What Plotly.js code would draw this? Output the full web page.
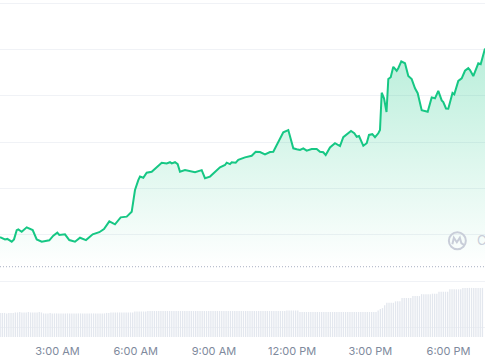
<!DOCTYPE html>
<html><head><meta charset="utf-8">
<script src="https://cdn.plot.ly/plotly-3.0.1.min.js"></script>
<style>html,body{margin:0;padding:0;background:#fff;}#chart{width:485px;height:360px;}</style>
</head><body><div id="chart"></div>
<script>
// Price series (time in hours of the day, price in USD)
const hours = [0.794,0.986,1.074,1.243,1.331,1.435,1.496,1.626,1.818,2.048,2.202,2.394,2.685,2.839,2.992,3.069,3.287,3.452,3.671,3.863,
4.093,4.350,4.603,4.783,4.987,5.205,5.424,5.654,5.846,5.907,5.972,6.099,6.164,6.291,6.421,6.613,6.805,6.997,7.188,7.315,
7.380,7.507,7.610,7.698,7.890,8.082,8.274,8.531,8.657,8.849,9.041,9.233,9.425,9.490,9.616,9.682,9.835,9.935,10.192,10.449,
10.602,10.767,10.959,11.151,11.277,11.469,11.661,11.853,11.918,12.045,12.175,12.302,12.428,12.558,12.750,12.942,13.069,13.195,13.287,13.452,
13.644,13.836,13.962,14.093,14.258,14.384,14.477,14.565,14.730,14.860,14.948,15.075,15.178,15.305,15.370,15.436,15.524,15.620,15.689,15.781,
15.880,16.011,16.072,16.187,16.329,16.456,16.586,16.713,16.816,16.970,17.096,17.200,17.353,17.480,17.606,17.737,17.798,17.902,17.990,18.151,
18.220,18.374,18.504,18.631,18.757,18.822,18.949,19.141,19.233,19.398];
const prices = [1.2190,1.2181,1.2183,1.2171,1.2181,1.2221,1.2224,1.2214,1.2233,1.2221,1.2181,1.2171,1.2177,1.2197,1.2210,1.2200,1.2203,1.2178,1.2171,1.2188,
1.2178,1.2203,1.2212,1.2226,1.2259,1.2246,1.2276,1.2279,1.2300,1.2351,1.2394,1.2437,1.2452,1.2447,1.2469,1.2473,1.2492,1.2512,1.2509,1.2514,
1.2509,1.2514,1.2506,1.2473,1.2480,1.2477,1.2471,1.2480,1.2445,1.2452,1.2473,1.2492,1.2502,1.2512,1.2506,1.2514,1.2512,1.2524,1.2535,1.2542,
1.2559,1.2558,1.2548,1.2558,1.2559,1.2603,1.2643,1.2653,1.2624,1.2574,1.2570,1.2567,1.2574,1.2564,1.2571,1.2571,1.2559,1.2557,1.2545,1.2578,
1.2596,1.2584,1.2622,1.2635,1.2649,1.2639,1.2624,1.2627,1.2585,1.2596,1.2632,1.2635,1.2622,1.2639,1.2653,1.2814,1.2790,1.2731,1.2873,1.2881,
1.2926,1.2909,1.2920,1.2949,1.2941,1.2886,1.2873,1.2833,1.2812,1.2739,1.2736,1.2732,1.2794,1.2790,1.2822,1.2781,1.2774,1.2746,1.2745,1.2813,
1.2807,1.2865,1.2876,1.2909,1.2920,1.2912,1.2886,1.2941,1.2937,1.3005];

// Volume bars, one per 5 minutes (in millions)
const volumeStartHour = 0.8;
const volumeStepHour = 1 / 12;
const volumes = [
5.0,5.0,5.0,4.9,5.0,5.0,5.0,
5.1,5.1,5.2,5.1,5.1,5.1,5.2,5.1,5.1,5.1,5.1,5.2,5.1,
4.9,4.9,4.9,5.0,4.9,4.9,4.9,4.9,4.9,4.9,4.9,4.9,4.9,4.9,4.9,4.9,4.9,4.9,4.9,4.9,4.9,4.9,4.9,4.9,4.9,4.9,4.9,4.9,4.9,5.0,5.0,
5.1,5.1,5.1,5.1,5.1,5.1,5.1,5.1,5.1,5.1,5.1,
5.3,5.3,5.3,5.3,5.3,5.3,
5.4,5.4,5.4,5.4,5.4,5.4,5.4,5.4,
5.4,5.4,5.4,5.4,5.4,5.4,5.4,5.4,
5.4,5.4,5.4,5.4,5.4,5.4,5.4,5.4,
5.4,5.4,5.4,5.4,5.4,5.4,5.4,5.4,
5.4,5.4,5.4,5.4,5.4,5.4,5.4,5.4,
5.4,5.4,5.4,5.4,5.4,5.4,5.4,5.4,
5.4,5.4,5.4,5.4,5.4,5.4,5.4,5.4,
5.4,5.4,5.4,5.4,5.4,5.4,5.4,5.4,
5.5,5.5,5.5,5.5,5.5,5.5,
5.2,5.2,5.2,5.2,5.2,5.2,5.2,5.2,5.2,5.2,5.2,5.2,5.2,5.2,5.2,5.2,5.2,5.2,
5.2,5.2,5.2,5.2,5.2,5.2,5.2,5.2,5.2,5.2,5.2,5.2,5.2,5.2,5.2,5.2,5.2,5.2,
5.5,5.8,6.0,6.6,7.1,7.1,7.1,7.1,7.4,7.4,7.4,
8.1,8.1,8.1,8.1,8.1,8.5,8.5,8.5,8.5,8.9,8.9,8.9,8.9,8.9,9.0,9.0,9.0,
9.4,9.4,9.4,9.4,9.4,9.9,9.9,9.9,9.9,9.9,9.9,
10.2,10.2,10.2,10.2,10.2,10.2,10.2,10.2,10.2,10.2];

const referencePrice = 1.2063;
const tickHours = [3, 6, 9, 12, 15, 18];
const tickLabels = ["3:00 AM", "6:00 AM", "9:00 AM", "12:00 PM", "3:00 PM", "6:00 PM"];

const green = '#16c784';
const watermark = '#c9ced9';

const traces = [
  {
    type: 'scatter', mode: 'lines', x: hours, y: prices,
    line: {color: green, width: 2, shape: 'linear'},
    fill: 'tozeroy',
    fillgradient: {type: 'vertical', start: referencePrice, stop: 1.31,
      colorscale: [[0, 'rgba(22,199,132,0)'], [1, 'rgba(22,199,132,0.33)']]},
    hoverinfo: 'skip'
  },
  {
    type: 'bar', x0: volumeStartHour, dx: volumeStepHour, y: volumes, yaxis: 'y2',
    marker: {color: '#e3e7ee', line: {width: 0}}, hoverinfo: 'skip'
  }
];

const layout = {
  width: 485, height: 360,
  margin: {l: 0, r: 0, t: 0, b: 23, pad: 0},
  paper_bgcolor: '#ffffff', plot_bgcolor: '#ffffff',
  showlegend: false,
  bargap: 0.4,
  xaxis: {
    range: [hours[0], hours[hours.length - 1]],
    tickmode: 'array', tickvals: tickHours, ticktext: tickLabels,
    showgrid: false, zeroline: false, showline: false, ticks: '',
    ticklabelstandoff: 6,
    tickfont: {family: 'Inter, "Liberation Sans", sans-serif', size: 11, color: '#808a9d'}
  },
  yaxis: {
    range: [1.17596, 1.32143], tick0: 1.20, dtick: 0.02,
    showticklabels: false, showgrid: true, gridcolor: '#f0f2f6', gridwidth: 1,
    zeroline: false, showline: false
  },
  yaxis2: {range: [0, 70], overlaying: 'y', visible: false, showgrid: false, zeroline: false},
  shapes: [
    {type: 'line', xref: 'paper', x0: 0, x1: 1, yref: 'y', y0: referencePrice, y1: referencePrice,
      line: {color: '#a9b0c2', width: 1, dash: '1px,2px'}},
    {type: 'circle', xref: 'paper', yref: 'paper', xsizemode: 'pixel', ysizemode: 'pixel',
      xanchor: 0.943, yanchor: 0.2858, x0: -8.5, x1: 8.5, y0: -8.5, y1: 8.5,
      line: {color: watermark, width: 2}},
    {type: 'path', xref: 'paper', yref: 'paper', xsizemode: 'pixel', ysizemode: 'pixel',
      xanchor: 0.943, yanchor: 0.2858,
      path: 'M -5 -3.5 L -3.5 3 L -0.5 -1.5 L 2.5 3 L 4 -2.5 L 7.5 -5',
      line: {color: watermark, width: 2}}
  ],
  annotations: [
    {xref: 'paper', yref: 'paper', x: 0.9794, y: 0.2864, xanchor: 'left', yanchor: 'middle',
      text: 'CoinMarketCap', showarrow: false,
      font: {family: 'Inter, sans-serif', size: 13, color: watermark}}
  ]
};

Plotly.newPlot('chart', traces, layout, {displayModeBar: false, staticPlot: true});
</script>
</body></html>
